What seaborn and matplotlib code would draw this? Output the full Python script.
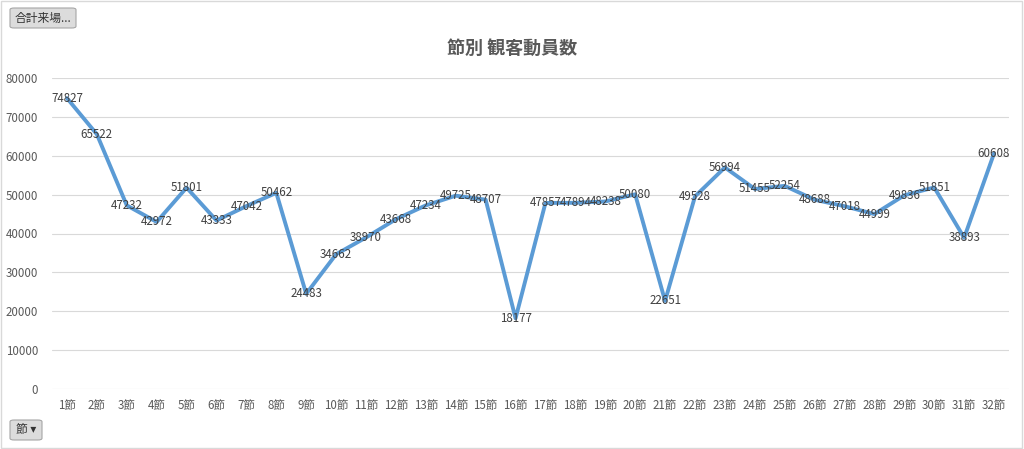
import pandas as pd
import matplotlib
matplotlib.use("Agg")
import matplotlib.pyplot as plt
import seaborn as sns
from matplotlib.patches import FancyBboxPatch, Rectangle

sns.set_style("white")
plt.rcParams["font.family"] = ["Noto Sans CJK JP", "DejaVu Sans"]

# ---------- data ----------
rounds = [f"{i}節" for i in range(1, 33)]
attendance = [74827, 65522, 47232, 42972, 51801, 43333, 47042, 50462,
              24483, 34662, 38970, 43668, 47234, 49725, 48707, 18177,
              47857, 47894, 48238, 50080, 22651, 49528, 56994, 51455,
              52254, 48688, 47018, 44999, 49836, 51851, 38893, 60608]
y_ticks = [0, 10000, 20000, 30000, 40000, 50000, 60000, 70000, 80000]
title = "節別 観客動員数"

df = pd.DataFrame({"節": rounds, "観客": attendance})

fig = plt.figure(figsize=(10.24, 4.49), dpi=100)
ax = fig.add_axes([52 / 1024, 60 / 449, 957 / 1024, 311 / 449])

sns.lineplot(data=df, x="節", y="観客", sort=False, color="#5B9BD5",
             linewidth=2.8, ax=ax)

# data labels centred on the points
for i, v in enumerate(attendance):
    ax.text(i, v, str(v), ha="center", va="center", fontsize=8.3,
            color="#404040")

ax.set_xlim(-0.5, len(rounds) - 0.5)
ax.set_ylim(0, 80000)
ax.set_yticks(y_ticks)
ax.set_yticklabels([str(t) for t in y_ticks])
ax.grid(axis="y", color="#D9D9D9", linewidth=0.8)
ax.set_axisbelow(True)
for s in ax.spines.values():
    s.set_visible(False)
ax.tick_params(axis="both", length=0, labelsize=8.3, labelcolor="#595959")
ax.tick_params(axis="y", pad=10)
ax.tick_params(axis="x", pad=7)
ax.set_xlabel("")
ax.set_ylabel("")

fig.text(0.5, 1 - 48 / 449, title, ha="center", va="center", fontsize=13,
         color="#595959", fontweight="bold")

# figure frame
fig.patches.append(Rectangle((0.001, 0.002), 0.997, 0.995, transform=fig.transFigure,
                             fill=False, edgecolor="#D9D9D9", linewidth=1))

# field buttons
def button(x, y, w, h, label):
    fig.patches.append(FancyBboxPatch((x / 1024, 1 - (y + h) / 449), w / 1024, h / 449,
                                      boxstyle="round,pad=0,rounding_size=0.004",
                                      transform=fig.transFigure, facecolor="#DCDCDC",
                                      edgecolor="#A6A6A6", linewidth=0.8))
    fig.text((x + w / 2) / 1024, 1 - (y + h / 2) / 449, label, ha="center",
             va="center", fontsize=8.5, color="#333333")

button(10, 8, 66, 20, "合計来場...")
button(10, 420, 32, 20, "節 ▾")

plt.savefig("out.png", dpi=100)
plt.close()
